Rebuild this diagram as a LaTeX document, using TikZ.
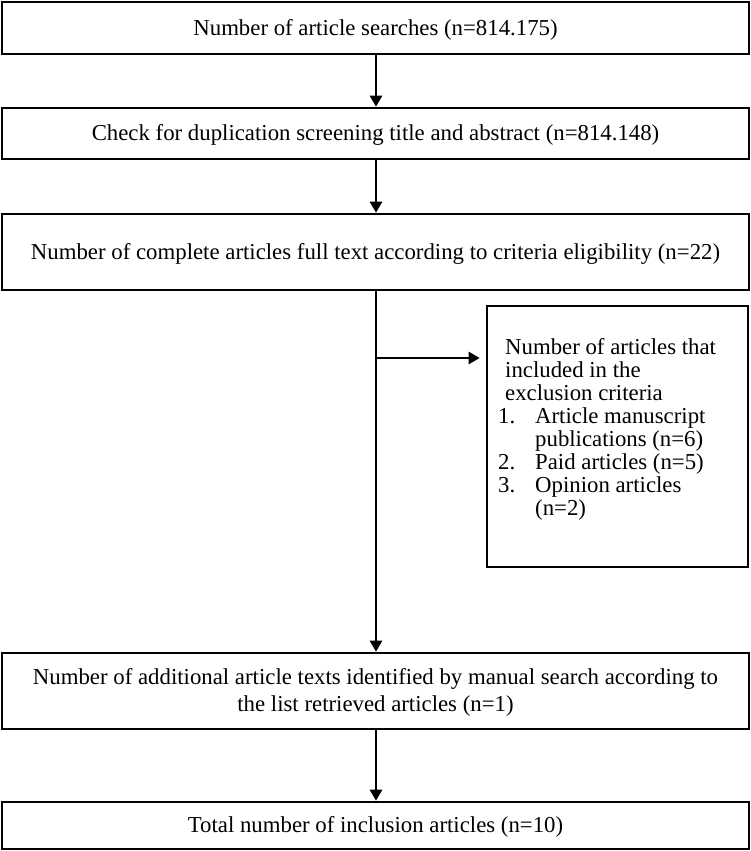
\documentclass[tikz,border=0pt]{standalone}
\usepackage{fontspec}
\setmainfont{Liberation Serif}
\usetikzlibrary{arrows.meta}
\begin{document}
\begin{tikzpicture}[x=1pt,y=-1pt,
  box/.style={draw,line width=2.6pt,minimum width=747pt,align=center,inner sep=0pt,text depth=2pt,font=\fontsize{22.8}{27}\selectfont},
  arr/.style={line width=2.6pt,-{Triangle[length=11pt,width=12pt]}},
  ln/.style={line width=2.6pt}]
\useasboundingbox (0,0) rectangle (751,851);
\node[box,minimum height=52pt] (b1) at (375.5,28) {Number of article searches (n=814.175)};
\node[box,minimum height=51pt] (b2) at (375.5,133.5) {Check for duplication screening title and abstract (n=814.148)};
\node[box,minimum height=76pt] (b3) at (375.5,252) {Number of complete articles full text according to criteria eligibility (n=22)};
\node[draw,line width=2.6pt,minimum width=261pt,minimum height=261pt,inner sep=0pt] (ex) at (617.5,436.5) {};
\node[anchor=north west,align=left,inner sep=0pt,font=\fontsize{22.8}{23}\selectfont] (ext) at (498,338)
{\hspace{7pt}Number of articles that\\
\hspace{7pt}included in the\\
\hspace{7pt}exclusion criteria\\
\makebox[37pt][l]{1.}Article manuscript\\
\hspace{37pt}publications (n=6)\\
\makebox[37pt][l]{2.}Paid articles (n=5)\\
\makebox[37pt][l]{3.}Opinion articles\\
\hspace{37pt}(n=2)};
\node[box,minimum height=76pt] (b4) at (375.5,691) {Number of additional article texts identified by manual search according to\\the list retrieved articles (n=1)};
\node[box,minimum height=47pt] (b5) at (375.5,825.5) {Total number of inclusion articles (n=10)};
\coordinate (br) at (376,358);
\draw[arr] (b1.south -| br) -- (b2.north -| br);
\draw[arr] (b2.south -| br) -- (b3.north -| br);
\draw[arr] (b3.south -| br) -- (b4.north -| br);
\draw[arr] (br) -- ([xshift=-6pt]ex.west |- br);
\draw[arr] (b4.south -| br) -- (b5.north -| br);
\end{tikzpicture}
\end{document}
